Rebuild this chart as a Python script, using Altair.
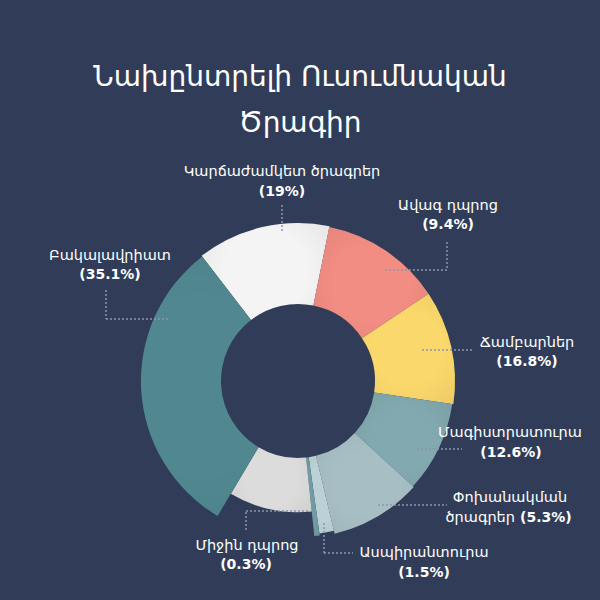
import math
import altair as alt
import pandas as pd

# ---------------- data ----------------
slice_ids = ["short", "high", "camps", "master", "exchange", "phd", "middle", "other", "bachelor"]
slice_angle_deg = [49.1, 44.7, 42.3, 34.0, 34.0, 5.5, 2.0, 36.8, 111.6]   # measured slice widths
slice_outer = [100, 99.4, 99.4, 98.7, 99.4, 97.5, 98.7, 83.0, 99.4]        # relative outer radius
slice_colors = ["#f4f4f4", "#f28d83", "#fbd86b", "#82a9af", "#a7bfc4",
                "#bbd1d6", "#6f9ca2", "#dcdcdc", "#518890"]

label_names = ["Կարճաժամկետ ծրագրեր", "Ավագ դպրոց", "Ճամբարներ", "Մագիստրատուրա",
               "Փոխանակման", "Ասպիրանտուրա", "Միջին դպրոց", "Բակալավրիատ"]
label_pcts = ["(19%)", "(9.4%)", "(16.8%)", "(12.6%)", "(5.3%)", "(1.5%)", "(0.3%)", "(35.1%)"]

title_lines = ["Նախընտրելի Ուսումնական", "Ծրագիր"]

# ---------------- layout (annotation positions, pixels) ----------------
CX, CY = 298, 381
INNER_R, OUTER_R = 77, 158
START = -37.6  # degrees, clockwise from 12 o'clock

name_pos = [(282, 172), (448, 206), (527, 343), (510, 433), (510, 498), (424, 553), (247, 546), (110, 256)]
pct_pos = [(282, 192), (448, 225), (527, 362), (511, 453), (547, 518), (424, 573), (246, 565), (110, 275)]
extra_text = [("ծրագրեր", 515, 518, "right")]

leader_segments = [
    (282, 205, 282, 232),
    (447, 242, 447, 270), (447, 270, 383, 270),
    (422, 350, 473, 350),
    (417, 449, 462, 449),
    (378, 505, 447, 505),
    (324, 523, 324, 553), (324, 553, 353, 553),
    (246, 530, 246, 511), (246, 511, 310, 511),
    (106, 290, 106, 319), (106, 319, 170, 319),
]

FONT = "DejaVu Sans"
BG = "#313d58"
W = H = 600

# ---------------- charts ----------------
df = pd.DataFrame({
    "id": slice_ids,
    "angle": slice_angle_deg,
    "outer": slice_outer,
    "idx": list(range(len(slice_ids))),
})

theta_scale = alt.Scale(domain=[0, 360], range=[math.radians(START), math.radians(START + 360)])
radius_scale = alt.Scale(type="linear", domain=[0, 100], range=[0, OUTER_R], zero=True)

base = alt.Chart(df).transform_window(
    cum="sum(angle)", sort=[alt.SortField("idx", order="ascending")], frame=[None, 0]
).transform_calculate(
    a0="datum.cum - datum.angle"
)

enc = dict(
    theta=alt.Theta("a0:Q", scale=theta_scale, stack=None),
    theta2="cum:Q",
    radius=alt.Radius("outer:Q", scale=radius_scale),
    x=alt.value(CX),
    y=alt.value(CY),
)

arcs = base.mark_arc(innerRadius=INNER_R).encode(
    color=alt.Color("id:N", scale=alt.Scale(domain=slice_ids, range=slice_colors), legend=None),
    **enc,
)

shade = base.mark_arc(
    innerRadius=INNER_R,
    fill=alt.Gradient(
        gradient="radial", x1=0.5, y1=0.5, r1=0.0, x2=0.5, y2=0.5, r2=0.72,
        stops=[alt.GradientStop(color="rgba(0,0,0,0)", offset=0.0),
               alt.GradientStop(color="rgba(0,0,0,0)", offset=0.45),
               alt.GradientStop(color="rgba(0,0,0,0.07)", offset=1.0)],
    ),
).encode(**enc)

seg_df = pd.DataFrame(leader_segments, columns=["x", "y", "x2", "y2"])
leaders = alt.Chart(seg_df).mark_rule(color="#8c96aa", strokeWidth=1.5, strokeDash=[2, 2]).encode(
    x=alt.X("x:Q", scale=None), y=alt.Y("y:Q", scale=None),
    x2="x2:Q", y2="y2:Q",
)

names_df = pd.DataFrame({"t": label_names, "x": [p[0] for p in name_pos], "y": [p[1] for p in name_pos]})
names = alt.Chart(names_df).mark_text(font=FONT, fontSize=14.5, color="white", baseline="middle", align="center").encode(
    x=alt.X("x:Q", scale=None), y=alt.Y("y:Q", scale=None), text="t:N")

pct_df = pd.DataFrame({"t": label_pcts, "x": [p[0] for p in pct_pos], "y": [p[1] for p in pct_pos],
                       "a": ["center", "center", "center", "center", "left", "center", "center", "center"]})
pct_center = alt.Chart(pct_df[pct_df.a == "center"]).mark_text(font=FONT, fontSize=14, fontWeight="bold", color="white",
                                                              baseline="middle", align="center").encode(
    x=alt.X("x:Q", scale=None), y=alt.Y("y:Q", scale=None), text="t:N")
pct_left = alt.Chart(pct_df[pct_df.a == "left"]).mark_text(font=FONT, fontSize=14, fontWeight="bold", color="white",
                                                          baseline="middle", align="left", dx=-27).encode(
    x=alt.X("x:Q", scale=None), y=alt.Y("y:Q", scale=None), text="t:N")

extra_df = pd.DataFrame(extra_text, columns=["t", "x", "y", "a"])
extra = alt.Chart(extra_df).mark_text(font=FONT, fontSize=14.5, color="white", baseline="middle", align="right").encode(
    x=alt.X("x:Q", scale=None), y=alt.Y("y:Q", scale=None), text="t:N")

title_df = pd.DataFrame({"t": title_lines, "x": [300, 300], "y": [78, 124]})
title = alt.Chart(title_df).mark_text(font=FONT, fontSize=28, color="white", baseline="middle", align="center").encode(
    x=alt.X("x:Q", scale=None), y=alt.Y("y:Q", scale=None), text="t:N")

chart = alt.layer(arcs, shade, leaders, names, pct_center, pct_left, extra, title).properties(
    width=W, height=H, background=BG, padding=0, autosize=alt.AutoSizeParams(type="none"),
).configure_view(stroke=None)

chart.save("out.html", embed_options={"renderer": "svg", "actions": False})
